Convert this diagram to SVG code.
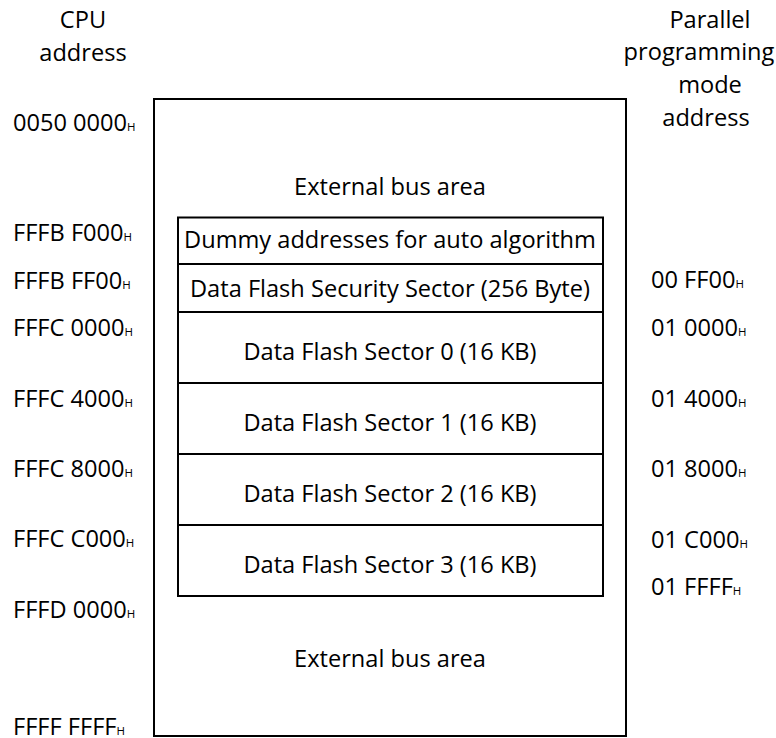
<svg xmlns="http://www.w3.org/2000/svg" width="776" height="738" viewBox="0 0 776 738">
<style>
text{font-family:"Open Sans","Noto Sans","Liberation Sans",sans-serif;font-size:23.6px;fill:#000}
.c{text-anchor:middle}
.s{font-size:11.5px}
.box{fill:none;stroke:#000;stroke-width:2}
</style>
<rect width="776" height="738" fill="#fff"/>
<g id="headers">
<text class="c" x="83" y="28">CPU</text>
<text class="c" x="83" y="61">address</text>
<text class="c" x="710" y="28">Parallel</text>
<text class="c" x="699" y="60">programming</text>
<text class="c" x="710" y="93">mode</text>
<text class="c" x="706" y="126">address</text>
</g>
<g id="memory-map">
<rect class="box" x="154" y="99" width="472" height="637"/>
<text class="c" x="390" y="195">External bus area</text>
<text class="c" x="390" y="667">External bus area</text>
</g>
<g id="flash-block">
<rect class="box" x="178" y="217.5" width="425" height="378.5"/>
<line class="box" x1="178" y1="264" x2="603" y2="264"/>
<line class="box" x1="178" y1="312" x2="603" y2="312"/>
<line class="box" x1="178" y1="383" x2="603" y2="383"/>
<line class="box" x1="178" y1="454" x2="603" y2="454"/>
<line class="box" x1="178" y1="525" x2="603" y2="525"/>
<text class="c" x="390" y="248">Dummy addresses for auto algorithm</text>
<text class="c" x="390" y="297">Data Flash Security Sector (256 Byte)</text>
<text class="c" x="390" y="360">Data Flash Sector 0 (16 KB)</text>
<text class="c" x="390" y="431">Data Flash Sector 1 (16 KB)</text>
<text class="c" x="390" y="502">Data Flash Sector 2 (16 KB)</text>
<text class="c" x="390" y="573">Data Flash Sector 3 (16 KB)</text>
</g>
<g id="cpu-addresses">
<text x="13" y="131">0050 0000<tspan class="s">H</tspan></text>
<text x="13" y="241">FFFB F000<tspan class="s">H</tspan></text>
<text x="13" y="289">FFFB FF00<tspan class="s">H</tspan></text>
<text x="13" y="336">FFFC 0000<tspan class="s">H</tspan></text>
<text x="13" y="407">FFFC 4000<tspan class="s">H</tspan></text>
<text x="13" y="477">FFFC 8000<tspan class="s">H</tspan></text>
<text x="13" y="547">FFFC C000<tspan class="s">H</tspan></text>
<text x="13" y="618">FFFD 0000<tspan class="s">H</tspan></text>
<text x="13" y="735">FFFF FFFF<tspan class="s">H</tspan></text>
</g>
<g id="pp-addresses">
<text x="651" y="288">00 FF00<tspan class="s">H</tspan></text>
<text x="651" y="336">01 0000<tspan class="s">H</tspan></text>
<text x="651" y="407">01 4000<tspan class="s">H</tspan></text>
<text x="651" y="477">01 8000<tspan class="s">H</tspan></text>
<text x="651" y="548">01 C000<tspan class="s">H</tspan></text>
<text x="651" y="595">01 FFFF<tspan class="s">H</tspan></text>
</g>
</svg>
